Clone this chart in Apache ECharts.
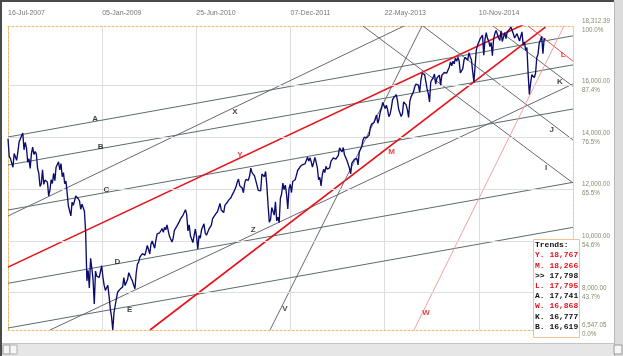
<!DOCTYPE html>
<html><head><meta charset="utf-8">
<script src="https://cdn.jsdelivr.net/npm/echarts@6.0.0/dist/echarts.min.js"></script>
<style>html,body{margin:0;padding:0;background:#fff}#c{width:623px;height:356px}</style>
</head><body><div id="c"></div>
<script>
// ---- axis ticks ----
const xTickLabels = ['16-Jul-2007','05-Jan-2009','25-Jun-2010','07-Dec-2011','22-May-2013','10-Nov-2014'];
const xTickStep = 76.4;            // weeks between date ticks
const xMaxWeek = 458.4;
const yMin = 6547.05, yMax = 18312.39;
const yTickValues = [6547.05, 8000, 10000, 12000, 14000, 16000, 18312.39];
const yTickPercents = ['0.0%','43.7%','54.6%','65.5%','76.5%','87.4%','100.0%'];
const yGridValues = [8000, 10000, 12000, 14000, 16000];

// ---- weekly index values (week 0 = 16-Jul-2007) ----
const w2007 = [13950,13265,13182,13239,12845,13378,13358,13113,13442,13820,13896,14066,14165,13522,13806,13595,13043,13176,12800,13372,13625,13339,13450,13366];
const w2008 = [12800,12606,12099,12207,12743,12182,12348,12381,12266,11740,11951,12361,12216,12609,12325,12849,12891,13058,12745,12986,12480,12638,12210,12307,11843,11346,11288,10962,11496,11370,11326,11734,11659,11628,11543,11220,11421,11388,11143,10325,8451,8852,8175,9325,8943,8497,7552,8829,8635,8629,8579,8515];
const w2009 = [9034,8599,8281,8077,8000,8280,7850,7366,7063,6547,7224,7279,7776,8018,8083,8131,8076,8212,8575,8268,8277,8500,8764,8799,8539,8438,8280,8146,8743,9093,9172,9370,9321,9505,9544,9441,9605,9820,9665,9487,9865,9995,9972,9712,10023,10270,10318,10310,10388,10471,10329,10520];
const w2010 = [10428,10618,10610,10173,10067,9950,10099,10402,10325,10567,10625,10742,10851,10927,10997,11019,11204,11009,10380,10620,10193,10137,9931,10212,10450,10144,9686,10198,10098,10424,10466,10654,10303,10213,10150,10448,10463,10608,10860,10829,11006,11062,11133,11118,11444,11192,11204,11092,11382,11410,11492,11573,11578];
const w2011 = [11675,11787,11872,11824,12092,12273,12391,12130,12170,12044,11859,12221,12377,12380,12342,12505,12811,12639,12596,12512,12441,12151,11952,12004,11934,12582,12657,12480,12681,12143,11384,10720,10817,11285,11240,10992,11509,10772,10913,10700,11644,11809,12231,11983,12153,11796,11231,12019,12184,11867,12294,12218];
const w2012 = [12360,12422,12720,12660,12862,12801,12950,12983,12978,12922,13233,13081,13212,13060,12850,13029,13228,13038,12820,12369,12455,12119,12554,12767,12640,12880,12772,12777,12822,13075,13096,13207,13275,13157,13090,13306,13593,13579,13437,13610,13328,13343,13107,13093,12815,12588,13010,13025,13155,13135,13190,12938];
const w2013 = [13435,13488,13650,13896,14009,13993,13982,14001,14090,14397,14515,14512,14579,14565,14865,14548,14712,14974,15118,15354,15303,15116,15248,15070,14800,14910,15136,15464,15544,15559,15659,15425,15081,15010,14810,14922,15376,15452,15258,15073,14776,15400,15570,15615,15761,15962,16065,16086,16020,15755,16221,16479];
const w2014 = [16470,16437,16459,15879,15699,15372,16154,16103,16321,16452,16065,16302,16323,16412,16027,16408,16361,16513,16583,16491,16606,16717,16924,16776,16947,16851,17068,16944,17100,16961,16493,16553,16663,17001,17098,17138,16988,17280,17113,17009,16544,16142,16805,17391,17573,17634,17810,17828,17958,17180,17804,18053];
const w2015 = [17833,17737,17512,17673,17165,17825,18019,18140,18133,17857,17750,18128,17713,17763,18058,17827,18080,18024,18191,18273,18232,18011,17849,17899,18015,17947,17730,17760,18086,17568,17690,17373,17477,16460,15666,16102,16433,16385,16315,16472,17084,17216,17647,17664,17910,17245,17824,17798];
const closes = [].concat(w2007, w2008, w2009, w2010, w2011, w2012, w2013, w2014, w2015);

// ---- trend lines: [week, value] end points ----
const trendNames = ['A','B','C','D','E','X','Y','Z','M','V','I','J','K','L','W'];
const trendKinds = ['g','g','g','g','g','p','r','p','r','p','p','p','p','l','w'];
const trendStart = [[0,14017],[0,12933],[0,11191],[0,8354],[0,6624],[0,10959],[0,8980],[34.1,6547.05],[115.2,6547.05],[212.6,6547.05],[288.0,18312.39],[336.7,18312.39],[393.5,18312.39],[421.9,18312.39],[329.4,6547.05]];
const trendEnd   = [[458.4,17932],[458.4,16808],[458.4,15100],[458.4,12262],[458.4,10520],[321.3,18312.39],[436,18767],[458.4,16068],[436,18266],[335.9,18312.39],[458.4,12236],[458.4,13900],[458.4,15975],[458.4,16950],[451.1,18312.39]];
const trendLabelAt = [[70.6,14713],[75.2,13641],[79.8,11965],[88.7,9190],[98.7,7321],[184.2,14996],[188.2,13320],[199.0,10417],[311.3,13448],[224.7,7387],[436.5,12828],[441.1,14287],[447.8,16157],[450.5,17190],[339.1,7205]];

// ---- trends box ----
const boxNames  = ['Y.','M.','>>','L.','A.','W.','K.','B.'];
const boxValues = ['18,767','18,266','17,798','17,795','17,741','16,868','16,777','16,619'];
const boxRed    = [true,true,false,true,false,true,false,false];

const kindStyle = {
  g: {color:'#5a6d6b', width:1},
  p: {color:'#6a6676', width:1},
  r: {color:'#e8121a', width:1.6},
  l: {color:'#f04a4a', width:1},
  w: {color:'#f2a0a0', width:1}
};
const redKinds = {r:1, l:1, w:1};

const fmtNum = v => v.toLocaleString('en-US',{minimumFractionDigits:2, maximumFractionDigits:2});
const smallFont = "'Liberation Sans Narrow','Liberation Sans',Arial,sans-serif";

const series = [];
series.push({
  type:'line', data:[], silent:true, z:1,
  markLine:{silent:true, symbol:'none', animation:false, label:{show:false},
    lineStyle:{color:'#dedede', type:'solid', width:1},
    data: yGridValues.map(v => ({yAxis:v}))}
});
trendNames.forEach((n,i) => {
  const st = kindStyle[trendKinds[i]];
  series.push({type:'line', name:n, data:[trendStart[i], trendEnd[i]], symbol:'none', silent:true, z:3,
    clip:true, lineStyle:{color:st.color, width:st.width}});
});
series.push({type:'line', name:'DJIA', data: closes.map((v,i)=>[i,v]), symbol:'none', z:5, clip:true,
  lineStyle:{color:'#0c0c6e', width:1.35}});
series.push({type:'scatter', z:6, silent:true, symbolSize:1, itemStyle:{color:'rgba(0,0,0,0)'},
  data: trendNames.map((n,i)=>({value:trendLabelAt[i], name:n,
    label:{color: redKinds[trendKinds[i]] ? '#e8121a' : '#111'}})),
  label:{show:true, position:'inside', formatter: p => p.name, fontSize:8, fontWeight:'bold',
    fontFamily:"'Liberation Sans',Arial,sans-serif"}
});

const boxText = ['{k|Trends:}'].concat(boxNames.map((n,i)=>`{${boxRed[i]?'r':'k'}|${n} ${boxValues[i]}}`)).join('\n');
const monoBase = {fontFamily:"'Liberation Mono','Courier New',monospace", fontWeight:'bold', fontSize:8, lineHeight:10.2};

const chart = echarts.init(document.getElementById('c'), null, {renderer:'canvas'});
chart.setOption({
  animation:false,
  backgroundColor:'#ffffff',
  grid:{left:8, right:50, top:26, bottom:26, containLabel:false},
  xAxis:[
    {type:'value', position:'top', min:0, max:xMaxWeek, interval:xTickStep,
     axisLine:{show:true, onZero:false, lineStyle:{color:'#f0b860', type:[2,2], width:1}},
     axisTick:{show:false},
     axisLabel:{show:true, align:'left', margin:9, color:'#777', fontSize:7, fontFamily:smallFont,
       showMinLabel:true, showMaxLabel:false,
       formatter: v => xTickLabels[Math.round(v/xTickStep)] || ''},
     splitLine:{show:true, lineStyle:{color:'#dedede', width:1}}},
    {type:'value', position:'bottom', min:0, max:xMaxWeek, interval:xTickStep,
     axisLine:{show:true, onZero:false, lineStyle:{color:'#f0b860', type:[2,2], width:1}},
     axisTick:{show:false}, axisLabel:{show:false}, splitLine:{show:false}}
  ],
  yAxis:[
    {type:'value', position:'right', min:yMin, max:yMax,
     axisLine:{show:true, onZero:false, lineStyle:{color:'#e4d860', type:[2,2], width:1}},
     axisTick:{show:false}, splitLine:{show:false},
     axisLabel:{show:true, customValues:yTickValues, margin:9, color:'#8a8a6e', fontSize:6.3, lineHeight:9,
       fontFamily:smallFont,
       formatter: v => {
         let k = 0, best = Infinity;
         yTickValues.forEach((t,i)=>{ const d = Math.abs(t-v); if (d<best){best=d;k=i;} });
         return fmtNum(yTickValues[k]) + '\n' + yTickPercents[k];
       }}},
    {type:'value', position:'left', min:yMin, max:yMax,
     axisLine:{show:true, onZero:false, lineStyle:{color:'#f0b860', type:[2,2], width:1}},
     axisTick:{show:false}, axisLabel:{show:false}, splitLine:{show:false}}
  ],
  series: series,
  graphic:[
    {type:'rect', z:100, shape:{x:0,y:0,width:623,height:2}, style:{fill:'#4a4a4a'}},
    {type:'rect', z:100, shape:{x:0,y:0,width:2,height:356}, style:{fill:'#4a4a4a'}},
    {type:'rect', z:100, shape:{x:614,y:0,width:9,height:356}, style:{fill:'#dcdcdc'}},
    {type:'rect', z:100, shape:{x:614,y:2,width:1,height:354}, style:{fill:'#b8b8b8'}},
    {type:'rect', z:100, shape:{x:2,y:343,width:612,height:13}, style:{fill:'#e6e6e6'}},
    {type:'rect', z:100, shape:{x:2,y:343,width:612,height:1}, style:{fill:'#c4c4c4'}},
    {type:'rect', z:101, shape:{x:3,y:345,width:7,height:9}, style:{fill:'#f6f6f6', stroke:'#9a9a9a', lineWidth:1}},
    {type:'rect', z:101, shape:{x:10,y:345,width:7,height:9}, style:{fill:'#f6f6f6', stroke:'#b0b0b0', lineWidth:1}},
    {type:'rect', z:101, shape:{x:614,y:345,width:8,height:9}, style:{fill:'#f6f6f6', stroke:'#9a9a9a', lineWidth:1}},
    {type:'group', left:533, top:239, z:110, children:[
      {type:'rect', z:110, shape:{x:0.5,y:0.5,width:46,height:98}, style:{fill:'#ffffff', stroke:'#f0c394', lineWidth:1}},
      {type:'text', z:111, x:2, y:1, style:Object.assign({text:boxText, fill:'#000',
        rich:{k:Object.assign({fill:'#111'}, monoBase), r:Object.assign({fill:'#e8121a'}, monoBase)}}, monoBase)}
    ]}
  ]
});
</script></body></html>
